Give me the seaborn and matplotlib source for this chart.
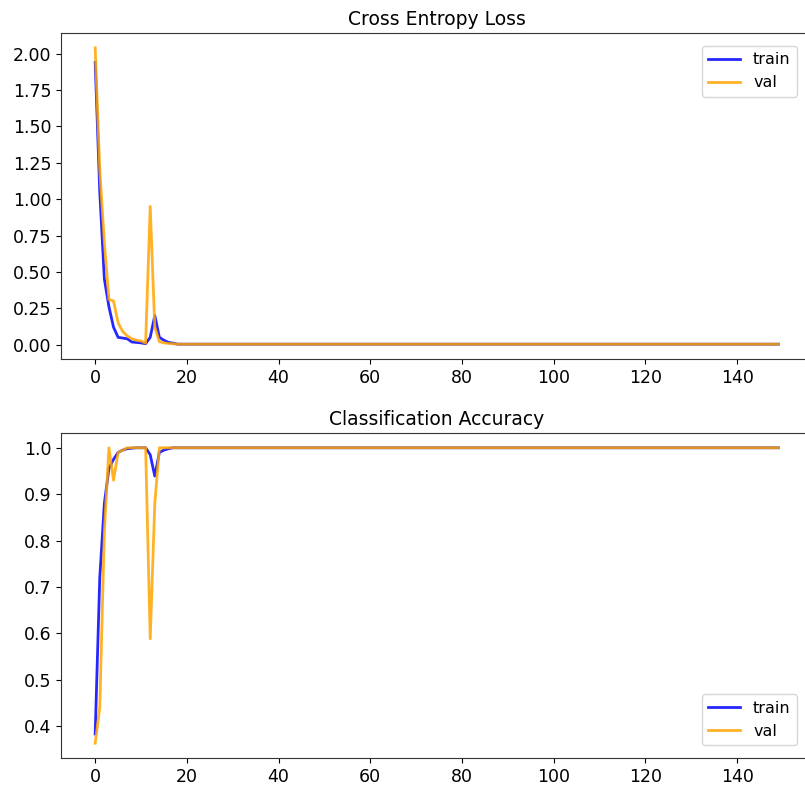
import matplotlib
matplotlib.use("Agg")
import matplotlib.pyplot as plt
import seaborn as sns
import numpy as np
import pandas as pd

# Per-epoch training history (150 epochs)
n_epochs = 150

train_loss_head = [1.94, 1.05, 0.45, 0.26, 0.12, 0.05, 0.045, 0.04, 0.018, 0.015,
                   0.012, 0.006, 0.05, 0.20, 0.05, 0.03, 0.015, 0.01]
val_loss_head = [2.04, 1.20, 0.70, 0.31, 0.30, 0.15, 0.09, 0.06, 0.04, 0.03,
                 0.025, 0.01, 0.95, 0.12, 0.02, 0.012, 0.008, 0.006]
train_acc_head = [0.383, 0.72, 0.88, 0.955, 0.975, 0.99, 0.995, 0.998, 0.999, 1.0,
                  1.0, 1.0, 0.985, 0.939, 0.99, 0.995, 0.998, 1.0]
val_acc_head = [0.363, 0.44, 0.82, 1.0, 0.93, 0.99, 0.995, 1.0, 1.0, 1.0,
                1.0, 1.0, 0.588, 0.88, 1.0, 1.0, 1.0, 1.0]

# Remaining epochs sit on a flat plateau
loss_plateau = 0.003
acc_plateau = 1.0

tail = n_epochs - len(train_loss_head)
train_loss = train_loss_head + [loss_plateau] * tail
val_loss = val_loss_head + [loss_plateau] * tail
train_acc = train_acc_head + [acc_plateau] * tail
val_acc = val_acc_head + [acc_plateau] * tail
epochs = list(range(n_epochs))

history = pd.DataFrame({
    "epoch": epochs,
    "train_loss": train_loss,
    "val_loss": val_loss,
    "train_acc": train_acc,
    "val_acc": val_acc,
})

plt.rcParams["font.family"] = ["DejaVu Sans"]
plt.rcParams["font.size"] = 12.5

fig = plt.figure(figsize=(8.05, 8.0), dpi=100)
ax1 = fig.add_axes([0.0758, 0.55125, 0.9336, 0.4075])
ax2 = fig.add_axes([0.0758, 0.0525, 0.9336, 0.40625])

lw = 2.0
sns.lineplot(data=history, x="epoch", y="train_loss", color="blue", label="train",
             ax=ax1, linewidth=lw, alpha=0.85)
sns.lineplot(data=history, x="epoch", y="val_loss", color="orange", label="val",
             ax=ax1, linewidth=lw, alpha=0.85)
ax1.set_title("Cross Entropy Loss", fontsize=13.5)
ax1.legend(loc="upper right", bbox_to_anchor=(0.99, 0.985), fontsize=11.5)

sns.lineplot(data=history, x="epoch", y="train_acc", color="blue", label="train",
             ax=ax2, linewidth=lw, alpha=0.85)
sns.lineplot(data=history, x="epoch", y="val_acc", color="orange", label="val",
             ax=ax2, linewidth=lw, alpha=0.85)
ax2.set_title("Classification Accuracy", fontsize=13.5)
ax2.legend(loc="lower right", bbox_to_anchor=(0.99, 0.015), fontsize=11.5)

for ax in (ax1, ax2):
    ax.set_xlabel("")
    ax.set_ylabel("")
    ax.set_xticks([0, 20, 40, 60, 80, 100, 120, 140])
    for s in ax.spines.values():
        s.set_color("#333333")

ax1.set_yticks([0.0, 0.25, 0.5, 0.75, 1.0, 1.25, 1.5, 1.75, 2.0])
ax1.yaxis.set_major_formatter(matplotlib.ticker.FormatStrFormatter("%.2f"))
ax2.set_yticks([0.4, 0.5, 0.6, 0.7, 0.8, 0.9, 1.0])
ax2.yaxis.set_major_formatter(matplotlib.ticker.FormatStrFormatter("%.1f"))

fig.savefig("out.png", dpi=100)
